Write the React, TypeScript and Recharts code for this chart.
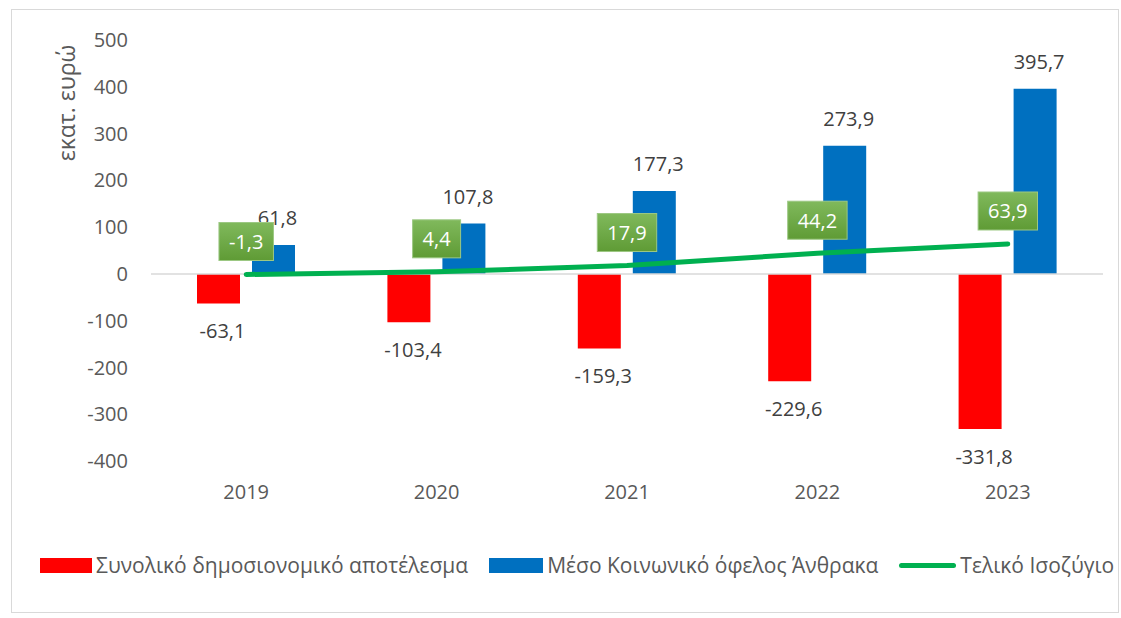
import React from "react";
import {
  ComposedChart,
  Bar,
  Line,
  XAxis,
  YAxis,
  ReferenceLine,
  Legend,
  LabelList,
} from "recharts";

const years = ["2019", "2020", "2021", "2022", "2023"];
const fiscalResult = [-63.1, -103.4, -159.3, -229.6, -331.8];
const carbonBenefit = [61.8, 107.8, 177.3, 273.9, 395.7];
const finalBalance = [-1.3, 4.4, 17.9, 44.2, 63.9];
const yTicks = [-400, -300, -200, -100, 0, 100, 200, 300, 400, 500];

const data = years.map((year, i) => ({
  year,
  fiscal: fiscalResult[i],
  benefit: carbonBenefit[i],
  balance: finalBalance[i],
}));

const FONT = "'Open Sans', sans-serif";
const fmt = (v: number) => v.toFixed(1).replace(".", ",");

// rough width of a label in Open Sans 20px
const textWidth = (s: string) =>
  s.split("").reduce((w, c) => w + (c === "," ? 5.2 : c === "-" ? 6.5 : 11.4), 0);

function BarValueLabel(props: any) {
  const { x, y, width, height, value } = props;
  const top = Math.min(y, y + height);
  const bottom = Math.max(y, y + height);
  const cy = value < 0 ? bottom + 27 : top - 27;
  return (
    <text
      x={x + width / 2 + 4}
      y={cy}
      textAnchor="middle"
      dominantBaseline="central"
      fill="#404040"
      fontSize={20}
      fontFamily={FONT}
    >
      {fmt(value)}
    </text>
  );
}

function BalanceLabel(props: any) {
  const { x, y, value } = props;
  const s = fmt(value);
  const w = textWidth(s) + 20;
  const h = 38;
  return (
    <g>
      <rect
        x={x - w / 2}
        y={y - 14 - h}
        width={w}
        height={h}
        fill="url(#boxGreen)"
        stroke="#9cc883"
        strokeWidth={1}
      />
      <text
        x={x}
        y={y - 14 - h / 2}
        textAnchor="middle"
        dominantBaseline="central"
        fill="#ffffff"
        fontSize={20}
        fontFamily={FONT}
      >
        {s}
      </text>
    </g>
  );
}

function LegendContent() {
  const item = (swatch: React.ReactNode, label: string) => (
    <div style={{ display: "flex", alignItems: "center", gap: 4 }}>
      {swatch}
      <span>{label}</span>
    </div>
  );
  return (
    <div
      style={{
        display: "flex",
        justifyContent: "flex-start",
        alignItems: "center",
        gap: 21,
        height: 28,
        paddingLeft: 40,
        fontFamily: FONT,
        fontSize: 21,
        color: "#595959",
      }}
    >
      {item(
        <div style={{ width: 52, height: 15, background: "#ff0000" }} />,
        "Συνολικό δημοσιονομικό αποτέλεσμα"
      )}
      {item(
        <div style={{ width: 54, height: 15, background: "#0070c0" }} />,
        "Μέσο Κοινωνικό όφελος Άνθρακα"
      )}
      {item(
        <div
          style={{
            width: 57,
            height: 5,
            borderRadius: 3,
            background: "#00b050",
          }}
        />,
        "Τελικό Ισοζύγιο"
      )}
    </div>
  );
}

export default function App() {
  return (
    <div
      style={{
        position: "absolute",
        left: 0,
        top: 0,
        width: 1121,
        height: 618,
        background: "#ffffff",
      }}
    >
      <div
        style={{
          position: "absolute",
          left: 11,
          top: 9,
          width: 1108,
          height: 604,
          border: "1px solid #d9d9d9",
          boxSizing: "border-box",
        }}
      />
      <ComposedChart
        width={1121}
        height={618}
        data={data}
        margin={{ top: 40, right: 18, left: 0, bottom: 69 }}
        barSize={43}
        barGap={12}
        style={{ position: "absolute", left: 0, top: 0 }}
      >
        <defs>
          <linearGradient id="boxGreen" x1="0" y1="0" x2="0" y2="1">
            <stop offset="0%" stopColor="#80b95c" />
            <stop offset="100%" stopColor="#5f9b35" />
          </linearGradient>
        </defs>
        <XAxis
          dataKey="year"
          axisLine={false}
          tickLine={false}
          tickSize={0}
          tickMargin={24}
          height={60}
          tick={{ fill: "#595959", fontSize: 20, fontFamily: FONT }}
        />
        <YAxis
          width={151}
          domain={[-400, 500]}
          ticks={yTicks}
          interval={0}
          axisLine={false}
          tickLine={false}
          tickSize={0}
          tickMargin={23}
          tick={{ fill: "#595959", fontSize: 20, fontFamily: FONT }}
          label={{
            content: () => (
              <text
                x={66}
                y={103}
                transform="rotate(-90 66 103)"
                textAnchor="middle"
                dominantBaseline="central"
                fill="#595959"
                fontSize={23}
                fontFamily={FONT}
              >
                εκατ. ευρώ
              </text>
            ),
          }}
        />
        <ReferenceLine y={0} stroke="#d9d9d9" strokeWidth={1.5} />
        <Legend
          verticalAlign="bottom"
          content={<LegendContent />}
          wrapperStyle={{ top: 551, left: 0, width: 1121, height: 28 }}
        />
        <Bar dataKey="fiscal" fill="#ff0000" isAnimationActive={false}>
          <LabelList dataKey="fiscal" content={<BarValueLabel />} />
        </Bar>
        <Bar dataKey="benefit" fill="#0070c0" isAnimationActive={false}>
          <LabelList dataKey="benefit" content={<BarValueLabel />} />
        </Bar>
        <Line
          dataKey="balance"
          stroke="#00b050"
          strokeWidth={5}
          strokeLinecap="round"
          dot={false}
          activeDot={false}
          isAnimationActive={false}
        >
          <LabelList dataKey="balance" content={<BalanceLabel />} />
        </Line>
      </ComposedChart>
    </div>
  );
}
